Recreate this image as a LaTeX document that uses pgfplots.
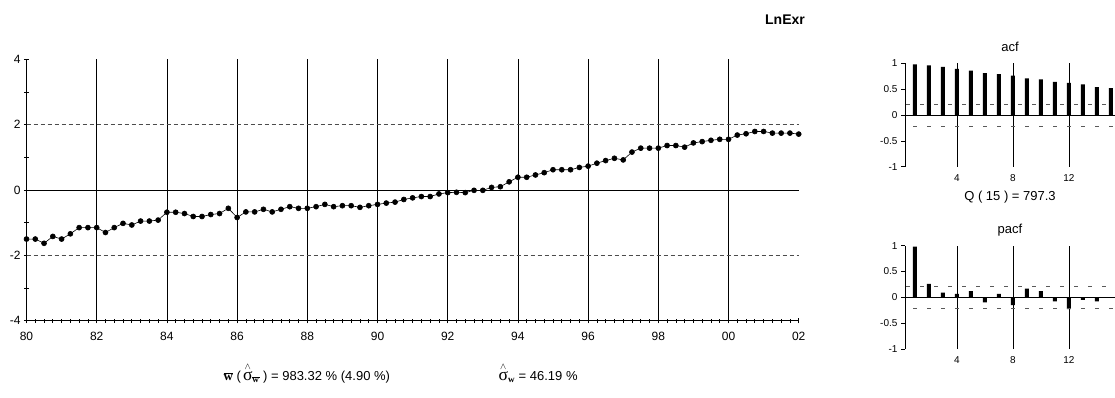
\RequirePackage{fix-cm}
\documentclass[border=0pt]{standalone}
\usepackage{pgfplots}
\pgfplotsset{compat=1.18}
\usepackage{graphicx}
\usepackage{amsmath}
\usepackage{fontspec}
\setmainfont{Liberation Sans}
\newfontfamily\symfont{Liberation Serif}
\newcommand{\wb}{\text{\symfont\bfseries w}}
\newcommand{\sg}{\text{\scalebox{1.35}{\symfont σ}}}
\newcommand{\sghat}{{\overset{\wedge}{\sg}}}

% quarterly log exchange rate, 1980Q1 -- 2002Q1
\pgfplotstableread{
x y
80.00 -1.50
80.25 -1.50
80.50 -1.63
80.75 -1.42
81.00 -1.50
81.25 -1.34
81.50 -1.15
81.75 -1.15
82.00 -1.15
82.25 -1.30
82.50 -1.15
82.75 -1.02
83.00 -1.07
83.25 -0.95
83.50 -0.95
83.75 -0.92
84.00 -0.68
84.25 -0.68
84.50 -0.72
84.75 -0.81
85.00 -0.81
85.25 -0.75
85.50 -0.72
85.75 -0.56
86.00 -0.84
86.25 -0.67
86.50 -0.67
86.75 -0.59
87.00 -0.67
87.25 -0.59
87.50 -0.51
87.75 -0.56
88.00 -0.56
88.25 -0.51
88.50 -0.44
88.75 -0.51
89.00 -0.48
89.25 -0.48
89.50 -0.53
89.75 -0.48
90.00 -0.44
90.25 -0.40
90.50 -0.37
90.75 -0.29
91.00 -0.24
91.25 -0.20
91.50 -0.20
91.75 -0.12
92.00 -0.08
92.25 -0.07
92.50 -0.08
92.75 -0.01
93.00 -0.01
93.25 0.08
93.50 0.10
93.75 0.25
94.00 0.39
94.25 0.39
94.50 0.46
94.75 0.53
95.00 0.62
95.25 0.62
95.50 0.62
95.75 0.69
96.00 0.73
96.25 0.82
96.50 0.90
96.75 0.97
97.00 0.92
97.25 1.16
97.50 1.28
97.75 1.28
98.00 1.28
98.25 1.36
98.50 1.36
98.75 1.31
99.00 1.44
99.25 1.48
99.50 1.52
99.75 1.55
100.00 1.55
100.25 1.68
100.50 1.72
100.75 1.79
101.00 1.79
101.25 1.74
101.50 1.74
101.75 1.74
102.00 1.71
}\series

\pgfplotstableread{
lag r
1 0.98
2 0.96
3 0.93
4 0.89
5 0.86
6 0.81
7 0.79
8 0.76
9 0.71
10 0.69
11 0.64
12 0.62
13 0.59
14 0.54
15 0.52
}\acf

\pgfplotstableread{
lag r
1 0.98
2 0.26
3 0.09
4 0.065
5 0.12
6 -0.10
7 0.065
8 -0.15
9 0.17
10 0.12
11 -0.08
12 -0.23
13 -0.05
14 -0.08
}\pacf

\tikzset{band/.style={black!65, line width=0.7pt, dash pattern=on 4pt off 10pt}}

\pgfplotsset{
  corr panel/.style={
    scale only axis, width=210pt, height=103.4pt,
    xmin=0.29, xmax=15.29, ymin=-1, ymax=1,
    axis y line=left, axis x line=bottom,
    x axis line style={draw=none},
    y axis line style={-, black, line width=0.9pt},
    xtick={4,8,12}, xticklabels={4,8,12},
    ytick={-1,-0.5,0,0.5,1}, yticklabels={-1,-0.5,0,0.5,1},
    x tick style={draw=none},
    y tick style={black, line width=0.7pt},
    tick align=outside, major tick length=4pt,
    xmajorgrids, major grid style={black, line width=0.7pt},
    tick label style={font=\fontsize{10}{12}\selectfont},
    clip=false,
  },
}

\begin{document}
\begin{tikzpicture}[x=1pt,y=1pt]
\useasboundingbox (0,0) rectangle (1115,397);
\clip (0,0) rectangle (1115,397);

% time series panel
\begin{axis}[
  at={(26.5pt,76.2pt)}, anchor=south west,
  scale only axis, width=772.2pt, height=261.6pt,
  xmin=80, xmax=102, ymin=-4, ymax=4,
  axis x line=bottom, axis y line=left,
  axis line style={-, black, line width=0.9pt},
  xtick={80,82,...,102},
  xticklabels={80,82,84,86,88,90,92,94,96,98,00,02},
  minor x tick num=7,
  ytick={-4,-2,0,2,4},
  yticklabels={-4,-2,0,2,4},
  minor y tick num=1,
  tick align=center,
  major tick length=5pt, minor tick length=4pt,
  tick style={black, line width=0.7pt},
  tick label style={font=\fontsize{12}{14}\selectfont},
  xticklabel style={yshift=-5pt},
  extra x ticks={82,84,...,100},
  extra x tick labels={},
  extra x tick style={grid=major, major tick length=0pt},
  major grid style={black, line width=0.7pt},
  clip=false,
]
\draw[black, line width=0.8pt] (axis cs:80,0) -- (axis cs:102,0);
\draw[black!70, line width=0.7pt, dash pattern=on 4pt off 3pt] (axis cs:80,2) -- (axis cs:102,2);
\draw[black!70, line width=0.7pt, dash pattern=on 4pt off 3pt] (axis cs:80,-2) -- (axis cs:102,-2);
\addplot[black, line width=0.6pt, mark=*, mark size=2.5pt] table[x=x, y=y] {\series};
\end{axis}

% autocorrelations
\begin{axis}[corr panel, at={(905pt,230.3pt)}, anchor=south west]
\addplot[ybar, bar width=4pt, fill=black, draw=none] table[x=lag, y=r] {\acf};
\draw[black, line width=0.9pt] (axis cs:0.29,0) -- (axis cs:15.29,0);
\draw[band, dash phase=13pt] (axis cs:0.29,0.213) -- (axis cs:15.29,0.213);
\draw[band, dash phase=6pt] (axis cs:0.29,-0.213) -- (axis cs:15.29,-0.213);
\end{axis}

% partial autocorrelations
\begin{axis}[corr panel, at={(905pt,48pt)}, anchor=south west]
\addplot[ybar, bar width=4pt, fill=black, draw=none] table[x=lag, y=r] {\pacf};
\draw[black, line width=0.9pt] (axis cs:0.29,0) -- (axis cs:15.29,0);
\draw[band, dash phase=13pt] (axis cs:0.29,0.213) -- (axis cs:15.29,0.213);
\draw[band, dash phase=6pt] (axis cs:0.29,-0.213) -- (axis cs:15.29,-0.213);
\end{axis}

\node[font=\bfseries\fontsize{14}{16}\selectfont] at (785,377) {LnExr};
\node[font=\fontsize{13}{15}\selectfont] at (1010,350) {acf};
\node[font=\fontsize{13}{15}\selectfont] at (1010,200) {Q ( 15 ) = 797.3};
\node[font=\fontsize{13}{15}\selectfont] at (1010,167) {pacf};
\node[font=\fontsize{13}{15}\selectfont, anchor=west] at (220,24)
  {$\overline{\wb}$ (\,$\sghat_{\overline{\wb}}$ ) = 983.32 \% (4.90 \%)};
\node[font=\fontsize{13}{15}\selectfont, anchor=west] at (495,24)
  {$\sghat_{\wb}$ = 46.19 \%};
\end{tikzpicture}
\end{document}
